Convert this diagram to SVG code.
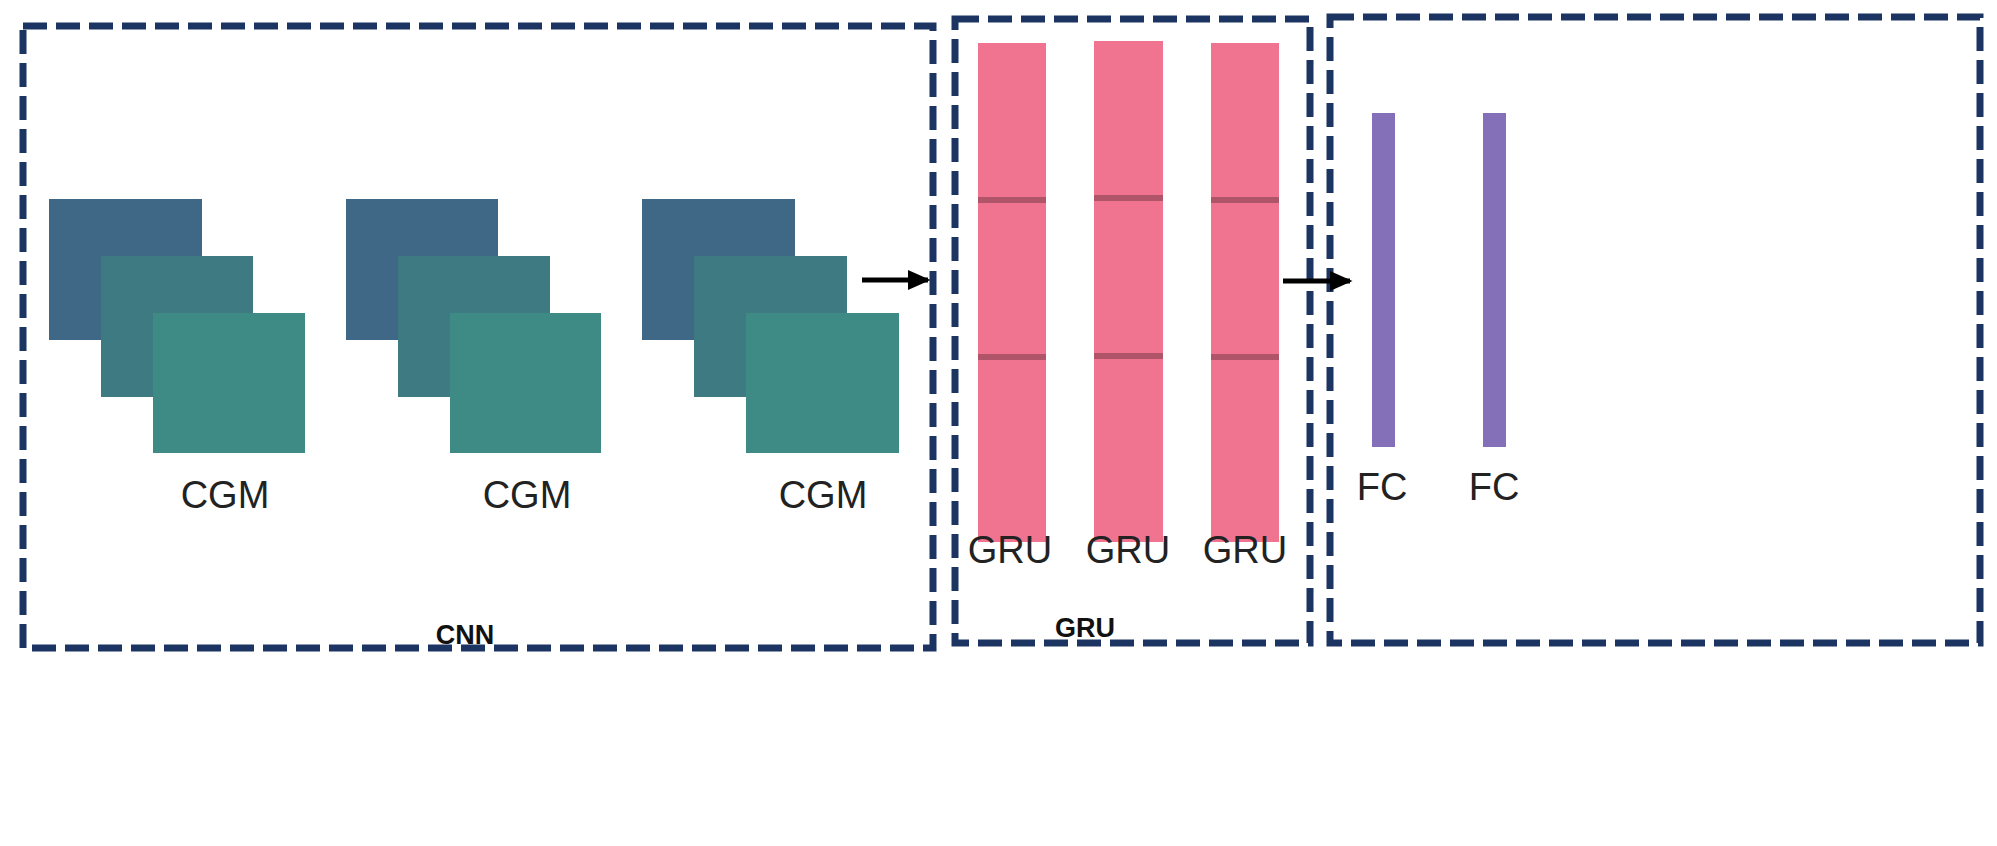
<svg xmlns="http://www.w3.org/2000/svg" width="1997" height="846" viewBox="0 0 1997 846">
<defs>
<style>
.box{fill:none;stroke:#1c3461;stroke-width:7;stroke-dasharray:24 9}
.b{fill:#3e6885}.m{fill:#3e7a82}.f{fill:#3e8a85}
.gru{fill:#f07490}.sep{stroke:#b0546a;stroke-width:6}
.fc{fill:#8470b8}
.t{font-family:"Liberation Sans",Arial,sans-serif;font-size:38px;fill:#222;text-anchor:middle}
.h{font-family:"Liberation Sans",Arial,sans-serif;font-size:27px;font-weight:bold;fill:#111;text-anchor:middle}
.arr{stroke:#000;stroke-width:5}
</style>
<marker id="ah" markerWidth="4.5" markerHeight="4" refX="4" refY="2" orient="auto" markerUnits="strokeWidth"><path d="M0,0 L4.5,2 L0,4 z" fill="#000"/></marker>
</defs>
<rect width="1997" height="846" fill="#fff"/>
<g id="cnn"><rect class="box" x="23" y="26" width="910" height="622"/><text class="h" x="465" y="644">CNN</text></g>
<g id="gru"><rect class="box" x="955" y="19" width="355" height="624"/><text class="h" x="1085" y="637">GRU</text></g>
<g id="fc"><rect class="box" x="1330" y="17" width="650" height="626"/></g>
<g id="cgm1"><rect class="b" x="49" y="199" width="153" height="141"/><rect class="m" x="101" y="256" width="152" height="141"/><rect class="f" x="153" y="313" width="152" height="140"/><text class="t" x="225" y="508">CGM</text></g>
<g id="cgm2"><rect class="b" x="346" y="199" width="152" height="141"/><rect class="m" x="398" y="256" width="152" height="141"/><rect class="f" x="450" y="313" width="151" height="140"/><text class="t" x="527" y="508">CGM</text></g>
<g id="cgm3"><rect class="b" x="642" y="199" width="153" height="141"/><rect class="m" x="694" y="256" width="153" height="141"/><rect class="f" x="746" y="313" width="153" height="140"/><text class="t" x="823" y="508">CGM</text></g>
<g id="gru1"><rect class="gru" x="978" y="43" width="68" height="499"/><line class="sep" x1="978" y1="200" x2="1046" y2="200"/><line class="sep" x1="978" y1="357" x2="1046" y2="357"/><text class="t" x="1010" y="563">GRU</text></g>
<g id="gru2"><rect class="gru" x="1094" y="41" width="69" height="501"/><line class="sep" x1="1094" y1="198" x2="1163" y2="198"/><line class="sep" x1="1094" y1="356" x2="1163" y2="356"/><text class="t" x="1128" y="563">GRU</text></g>
<g id="gru3"><rect class="gru" x="1211" y="43" width="68" height="499"/><line class="sep" x1="1211" y1="200" x2="1279" y2="200"/><line class="sep" x1="1211" y1="357" x2="1279" y2="357"/><text class="t" x="1245" y="563">GRU</text></g>
<g id="fc1"><rect class="fc" x="1372" y="113" width="23" height="334"/><text class="t" x="1382" y="500">FC</text></g>
<g id="fc2"><rect class="fc" x="1483" y="113" width="23" height="334"/><text class="t" x="1494" y="500">FC</text></g>
<g id="connectors"><line class="arr" x1="862" y1="280" x2="928" y2="280" marker-end="url(#ah)"/><line class="arr" x1="1283" y1="281" x2="1350" y2="281" marker-end="url(#ah)"/></g>
</svg>
